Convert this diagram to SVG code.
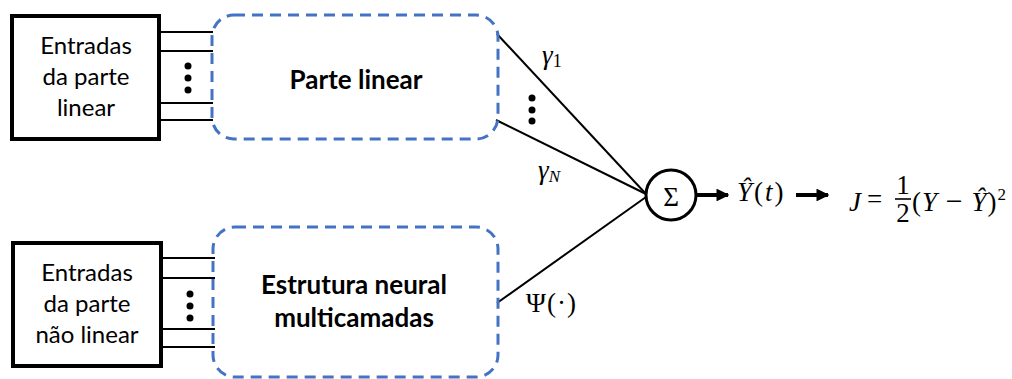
<svg xmlns="http://www.w3.org/2000/svg" width="1012" height="379" viewBox="0 0 1012 379">
<defs>
<style>
.box{fill:#fff;stroke:#000;stroke-width:4}
.dash{fill:none;stroke:#4472C4;stroke-width:3;stroke-dasharray:11 7}
.ln{stroke:#000;stroke-width:2;fill:none}
.txt{font-family:Lato,"Open Sans",sans-serif;font-size:24px;fill:#000;text-anchor:middle}
.bold{font-weight:bold;font-size:26px}
.math{font-family:"Liberation Serif","DejaVu Serif",serif;font-size:27px;fill:#000}
.it{font-style:italic}
</style>
<marker id="ah" viewBox="0 0 10 10" refX="9" refY="5" markerWidth="3.2" markerHeight="3.2" orient="auto" markerUnits="strokeWidth">
<path d="M0,0 L10,5 L0,10 z" fill="#000"/>
</marker>
</defs>

<g id="connectors">
<line class="ln" x1="161" y1="32" x2="213" y2="32"/>
<line class="ln" x1="161" y1="51" x2="213" y2="51"/>
<line class="ln" x1="161" y1="103" x2="213" y2="103"/>
<line class="ln" x1="161" y1="120" x2="213" y2="120"/>
<line class="ln" x1="163" y1="258" x2="215" y2="258"/>
<line class="ln" x1="163" y1="278" x2="215" y2="278"/>
<line class="ln" x1="163" y1="329" x2="215" y2="329"/>
<line class="ln" x1="163" y1="347" x2="215" y2="347"/>
<line class="ln" x1="497" y1="34" x2="646" y2="194"/>
<line class="ln" x1="496" y1="120" x2="646" y2="194"/>
<line class="ln" x1="497" y1="303" x2="646" y2="197"/>
<line stroke="#000" stroke-width="4" x1="696" y1="195" x2="728" y2="195" marker-end="url(#ah)"/>
<line stroke="#000" stroke-width="4" x1="796" y1="195" x2="828" y2="195" marker-end="url(#ah)"/>
</g>

<g id="dots">
<circle cx="188" cy="66" r="3.5"/><circle cx="188" cy="78" r="3.5"/><circle cx="188" cy="90" r="3.5"/>
<circle cx="190" cy="294" r="3.5"/><circle cx="190" cy="306" r="3.5"/><circle cx="190" cy="318" r="3.5"/>
<circle cx="532" cy="98" r="3.5"/><circle cx="532" cy="110" r="3.5"/><circle cx="532" cy="121" r="3.5"/>
</g>

<g id="inputs-linear">
<rect class="box" x="12" y="16" width="147" height="123"/>
<text class="txt" x="86" y="54">Entradas</text>
<text class="txt" x="86" y="85">da parte</text>
<text class="txt" x="86" y="116">linear</text>
</g>

<g id="linear-part">
<rect class="dash" x="212" y="15" width="286" height="124" rx="22"/>
<text class="txt bold" x="356" y="89">Parte linear</text>
</g>

<g id="inputs-nonlinear">
<rect class="box" x="13" y="243" width="148" height="123"/>
<text class="txt" x="87" y="281">Entradas</text>
<text class="txt" x="87" y="312">da parte</text>
<text class="txt" x="87" y="343">não linear</text>
</g>

<g id="neural-part">
<rect class="dash" x="213" y="227" width="285" height="150" rx="22"/>
<text class="txt bold" x="354" y="294">Estrutura neural</text>
<text class="txt bold" x="354" y="327">multicamadas</text>
</g>

<g id="labels">
<text class="math it" x="542" y="64">γ<tspan font-style="normal" font-size="18" dy="3">1</tspan></text>
<text class="math it" x="538" y="179">γ<tspan font-size="17" dy="3">N</tspan></text>
<text class="math" x="526" y="312" letter-spacing="1">Ψ(·)</text>
</g>

<g id="sum">
<circle cx="671" cy="195" r="25" fill="#fff" stroke="#000" stroke-width="3"/>
<text class="math" x="671" y="206" text-anchor="middle" font-size="34">Σ</text>
</g>

<g id="output">
<text class="math" x="737" y="201" letter-spacing="2"><tspan class="it">Ŷ</tspan>(<tspan class="it">t</tspan>)</text>
</g>

<g id="cost">
<text class="math it" x="849" y="211">J</text>
<text class="math" x="867" y="208" font-size="31">=</text>
<text class="math" x="903" y="194" text-anchor="middle" font-size="25">1</text>
<line x1="895" y1="199" x2="911" y2="199" stroke="#000" stroke-width="1.6"/>
<text class="math" x="903" y="222" text-anchor="middle" font-size="25">2</text>
<text class="math" x="912" y="211" letter-spacing="1">(<tspan class="it">Y</tspan> <tspan font-size="30">−</tspan> <tspan class="it">Ŷ</tspan>)<tspan font-size="17" dy="-11">2</tspan></text>
</g>
</svg>
